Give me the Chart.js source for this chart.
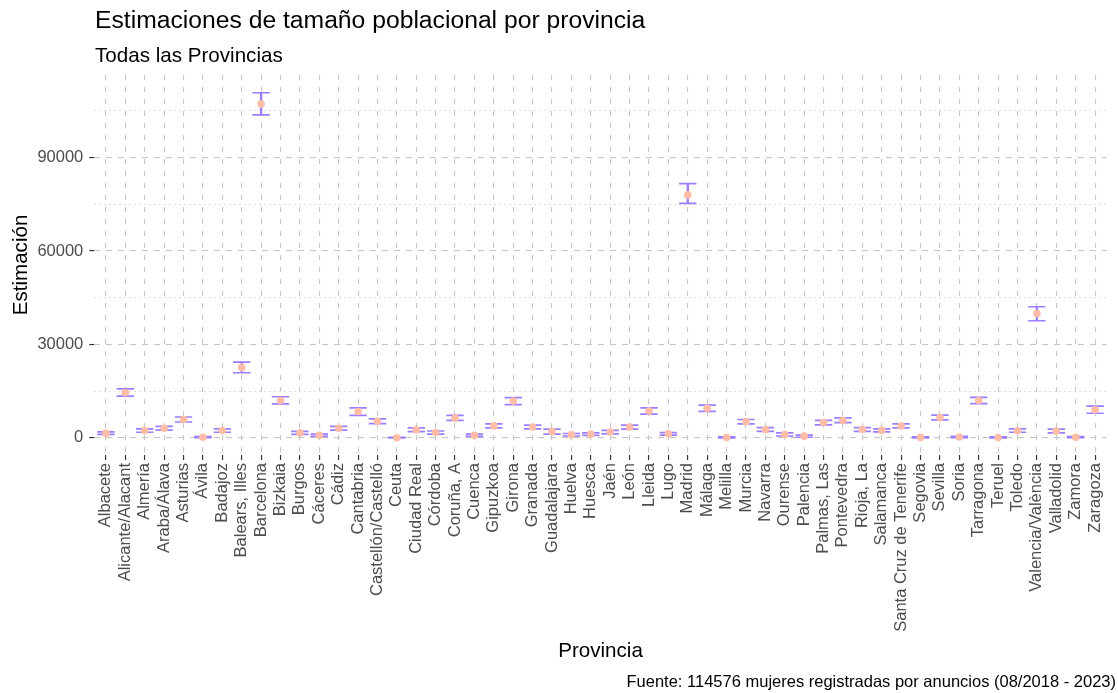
<!DOCTYPE html>
<html>
<head>
<meta charset="utf-8">
<script src="https://cdn.jsdelivr.net/npm/chart.js@4.4.1/dist/chart.umd.min.js"></script>
<style>
  body { margin: 0; background: #fff; }
  #wrap { position: relative; width: 1118px; height: 693px; font-family: "Liberation Sans", Arial, sans-serif; }
  #wrap canvas { position: absolute; left: 0; top: 0; }
  .txt { position: absolute; line-height: 1; white-space: nowrap; color: #000; }
  #title { left: 95px; top: 8px; font-size: 24.7px; }
  #subtitle { left: 95px; top: 44.5px; font-size: 20.6px; }
  #caption { right: 2px; top: 673px; font-size: 16.5px; }
</style>
</head>
<body>
<div id="wrap">
  <canvas id="chart" width="1118" height="693"></canvas>
  <div class="txt" id="title">Estimaciones de tamaño poblacional por provincia</div>
  <div class="txt" id="subtitle">Todas las Provincias</div>
  <div class="txt" id="caption">Fuente: 114576 mujeres registradas por anuncios (08/2018 - 2023)</div>
</div>
<script>
const provincias = ['Albacete', 'Alicante/Alacant', 'Almería', 'Araba/Álava', 'Asturias', 'Ávila',
  'Badajoz', 'Balears, Illes', 'Barcelona', 'Bizkaia', 'Burgos', 'Cáceres', 'Cádiz', 'Cantabria',
  'Castellón/Castelló', 'Ceuta', 'Ciudad Real', 'Córdoba', 'Coruña, A', 'Cuenca', 'Gipuzkoa',
  'Girona', 'Granada', 'Guadalajara', 'Huelva', 'Huesca', 'Jaén', 'León', 'Lleida', 'Lugo',
  'Madrid', 'Málaga', 'Melilla', 'Murcia', 'Navarra', 'Ourense', 'Palencia', 'Palmas, Las',
  'Pontevedra', 'Rioja, La', 'Salamanca', 'Santa Cruz de Tenerife', 'Segovia', 'Sevilla', 'Soria',
  'Tarragona', 'Teruel', 'Toledo', 'Valencia/València', 'Valladolid', 'Zamora', 'Zaragoza'];

// estimate and interval bounds
const estimacion = [1500, 14500, 2350, 3100, 5900, 200, 2350, 22600, 107200, 12000, 1600, 850, 3100, 8450,
  5350, 50, 2600, 1700, 6400, 850, 3850, 11800, 3500, 2000, 1000, 1200, 1850, 3450, 8600, 1300,
  78000, 9500, 100, 5200, 2700, 1100, 550, 4900, 5600, 2700, 2400, 3800, 150, 6500, 300,
  12000, 100, 2300, 39900, 2200, 200, 9000];
const limInferior = [1100, 13400, 1800, 2500, 5100, 50, 1800, 20900, 103700, 10900, 1100, 500, 2500, 7200,
  4600, 0, 2000, 1200, 5600, 500, 3200, 10700, 2900, 1200, 600, 800, 1300, 2800, 7600, 900,
  75300, 8500, 0, 4500, 2100, 600, 200, 4200, 4900, 2100, 1900, 3200, 0, 5800, 100,
  11000, 0, 1800, 37600, 1600, 50, 7900];
const limSuperior = [1900, 15700, 2900, 3700, 6700, 400, 2900, 24300, 110800, 13200, 2100, 1200, 3700, 9600,
  6100, 200, 3200, 2200, 7200, 1200, 4500, 12900, 4100, 2800, 1400, 1600, 2400, 4100, 9600, 1700,
  81600, 10500, 300, 5900, 3300, 1600, 900, 5600, 6400, 3300, 2900, 4500, 350, 7300, 500,
  13000, 300, 2900, 42100, 2800, 400, 10200];
const yTicks = [0, 15000, 30000, 45000, 60000, 75000, 90000, 105000];

const FONT = '"Liberation Sans", Arial, sans-serif';
const PURPLE = '#9d7dff';
const SALMON = '#ffbca6';
const isMajor = v => v % 30000 === 0;

new Chart(document.getElementById('chart'), {
  type: 'scatter',
  data: {
    datasets: [
      {
        type: 'scatter',
        data: provincias.map((p, i) => ({ x: i, y: estimacion[i] })),
        pointRadius: 3.8,
        pointBackgroundColor: SALMON,
        pointBorderWidth: 0
      },
      {
        type: 'scatter',
        data: provincias.map((p, i) => ({ x: i, y: limInferior[i] })),
        pointStyle: 'line',
        pointRadius: 8.7,
        pointBorderWidth: 1.7,
        pointBorderColor: PURPLE
      },
      {
        type: 'scatter',
        data: provincias.map((p, i) => ({ x: i, y: limSuperior[i] })),
        pointStyle: 'line',
        pointRadius: 8.7,
        pointBorderWidth: 1.7,
        pointBorderColor: PURPLE
      },
      {
        type: 'bar',
        data: provincias.map((p, i) => ({ x: i, y: [limInferior[i], limSuperior[i]] })),
        backgroundColor: PURPLE,
        barThickness: 1.7
      }
    ]
  },
  options: {
    responsive: false,
    animation: false,
    events: [],
    layout: { padding: { top: 75, bottom: 25, left: 0, right: 3 } },
    plugins: { legend: { display: false }, tooltip: { enabled: false } },
    scales: {
      x: {
        type: 'linear',
        min: -0.6,
        max: 51.6,
        offset: false,
        afterBuildTicks: s => { s.ticks = provincias.map((p, i) => ({ value: i })); },
        afterFit: s => { s.height = 213; },
        ticks: {
          autoSkip: false,
          minRotation: 90,
          maxRotation: 90,
          padding: 3,
          color: '#4d4d4d',
          font: { family: FONT, size: 16.5 },
          callback: v => provincias[v]
        },
        grid: {
          offset: false,
          color: '#c6c6c6',
          lineWidth: 1.1,
          tickLength: 5,
          tickColor: '#333333',
          tickWidth: 1.2,
          tickBorderDash: []
        },
        border: { display: false, dash: [5, 7] },
        title: {
          display: true,
          text: 'Provincia',
          color: '#000',
          font: { family: FONT, size: 20.6 },
          padding: { top: 0, bottom: 4 }
        }
      },
      y: {
        type: 'linear',
        min: -5500,
        max: 116500,
        afterBuildTicks: s => { s.ticks = yTicks.map(v => ({ value: v })); },
        afterFit: s => { s.width = 94.3; },
        ticks: {
          padding: 6,
          color: '#4d4d4d',
          font: { family: FONT, size: 16.5 },
          callback: v => isMajor(v) ? String(v) : ''
        },
        grid: {
          color: c => (c.tick && !isMajor(c.tick.value)) ? '#dedede' : '#c6c6c6',
          lineWidth: 1.1,
          tickLength: 5,
          tickColor: c => (c.tick && !isMajor(c.tick.value)) ? 'rgba(0,0,0,0)' : '#333333',
          tickWidth: 1.2,
          tickBorderDash: []
        },
        border: {
          display: false,
          dash: c => (c.tick && !isMajor(c.tick.value)) ? [2, 3] : [6, 6]
        },
        title: {
          display: true,
          text: 'Estimación',
          color: '#000',
          font: { family: FONT, size: 20.6 },
          padding: { top: 9, bottom: 0 }
        }
      }
    }
  }
});
</script>
</body>
</html>
